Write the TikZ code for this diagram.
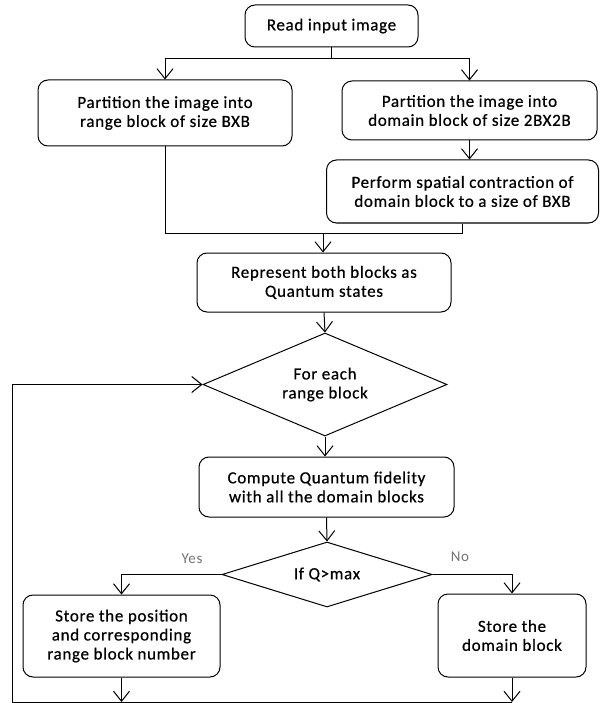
\documentclass[tikz,border=0pt]{standalone}
\usepackage{fontspec}
\setmainfont{Carlito}[LetterSpace=4.0]
\newfontfamily\boxfont{Carlito}[LetterSpace=4.0,FakeBold=0.6]
\usetikzlibrary{shapes.geometric,arrows.meta,calc}
\begin{document}
\begin{tikzpicture}[x=1pt,y=-1pt,
  every node/.style={font=\boxfont\fontsize{17}{19}\selectfont, align=center, inner sep=0pt},
  procbox/.style={draw, line width=1pt, rounded corners=10pt},
  decide/.style={draw, line width=1pt, diamond},
  conn/.style={line width=1pt},
  arr/.style={line width=1pt, -{Straight Barb[length=10pt,width=16pt,line width=1pt]}},
  lbl/.style={font=\rmfamily\fontsize{15}{17}\selectfont, text=black!55}
]
\useasboundingbox (0,0) rectangle (600,703);

\node[procbox, minimum width=173pt, minimum height=42pt] (read) at (331.5,26) {Read input image};
\node[procbox, minimum width=254pt, minimum height=66pt] (part1) at (165,113) {Partition the image into\\range block of size BXB};
\node[procbox, minimum width=255pt, minimum height=59pt] (part2) at (469.5,110.5) {Partition the image into\\domain block of size 2BX2B};
\node[procbox, minimum width=272pt, minimum height=63pt] (contract) at (462.5,191.5) {Perform spatial contraction of\\domain block to a size of BXB};
\node[procbox, minimum width=254pt, minimum height=59pt] (repr) at (324,282.5) {Represent both blocks as\\Quantum states};
\node[decide, shape aspect=2.4, minimum width=244pt, minimum height=103pt] (foreach) at (325,384.5) {For each\\range block};
\node[procbox, minimum width=255pt, minimum height=60pt] (compute) at (326.5,487) {Compute Quantum fidelity\\with all the domain blocks};
\node[decide, shape aspect=3.2, minimum width=210pt, minimum height=65pt] (ifq) at (327,574.5) {If Q>max};
\node[procbox, minimum width=197pt, minimum height=82pt] (storepos) at (121.5,636) {Store the position\\and corresponding\\range block number};
\node[procbox, minimum width=148pt, minimum height=83pt] (storedom) at (512,635.5) {Store the\\domain block};

\coordinate (j1) at (331.5,59);
\coordinate (j2) at (323,233);
\coordinate (b1) at (121.5,702);
\coordinate (b2) at (512,702);
\coordinate (c1) at (12,702);
\coordinate (c2) at (12,384.5);

\draw[conn] (read.south) -- (j1);
\draw[arr] (j1) -| (part1.north);
\draw[arr] (j1) -| (part2.north);
\draw[arr] (part2.south) -- (part2.south |- contract.north);
\draw[conn] (part1.south) |- (j2);
\draw[conn] (contract.south) |- (j2);
\draw[arr] (j2) -- (j2 |- repr.north);
\draw[arr] (repr.south) -- (foreach.north);
\draw[arr] (foreach.south) -- (foreach.south |- compute.north);
\draw[arr] (compute.south) -- (ifq.north);
\draw[arr] (ifq.west) -| (storepos.north);
\draw[arr] (ifq.east) -| (storedom.north);
\draw[arr] (storepos.south) -- (b1);
\draw[arr] (storedom.south) -- (b2);
\draw[conn] (b2) -- (c1) -- (c2);
\draw[arr] (c2) -- (foreach.west);

\node[lbl] (yes) at (192,559) {Yes};
\node[lbl] (no) at (460,557) {No};
\end{tikzpicture}
\end{document}
